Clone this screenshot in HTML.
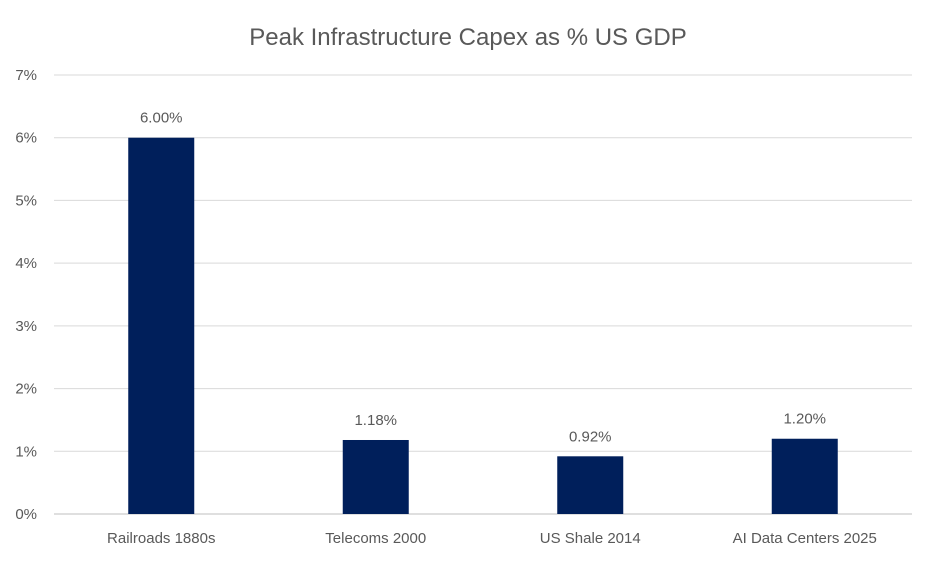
<!DOCTYPE html>
<html><head><meta charset="utf-8"><style>
body{margin:0;background:#fff;width:936px;height:562px;overflow:hidden}
svg text{font-family:"Liberation Sans",sans-serif;fill:#595959}
</style></head><body>
<svg id="c" width="936" height="562">
<text x="468" y="45" text-anchor="middle" font-size="24">Peak Infrastructure Capex as % US GDP</text>
</svg>
<script>
const categories=["Railroads 1880s","Telecoms 2000","US Shale 2014","AI Data Centers 2025"];
const values=[6.00,1.18,0.92,1.20];
const valueLabels=["6.00%","1.18%","0.92%","1.20%"];
const yTicks=[0,1,2,3,4,5,6,7];
const ns="http://www.w3.org/2000/svg",svg=document.getElementById('c');
const L=54,R=912,B=514,T=75,yMax=7;
const y=v=>B-(v/yMax)*(B-T);
const band=(R-L)/categories.length;
const x=i=>L+band*(i+0.5);
function mk(t,a){const e=document.createElementNS(ns,t);for(const k in a)e.setAttribute(k,a[k]);svg.appendChild(e);return e;}
yTicks.forEach(t=>{
 const g=mk('line',{x1:L,x2:R,y1:y(t),y2:y(t),stroke:t===0?'#bfbfbf':'#d9d9d9','stroke-width':1});
 
 
 const l=mk('text',{x:37,y:y(t)+5,'text-anchor':'end','font-size':15});
 l.textContent=t+'%';
 
 
});
categories.forEach((c,i)=>{
 const w=66;
 const b=mk('rect',{x:x(i)-w/2,y:y(values[i]),width:w,height:B-y(values[i]),fill:'#001f5b'});
 
 
 const v=mk('text',{x:x(i),y:y(values[i])-15,'text-anchor':'middle','font-size':15});
 v.textContent=valueLabels[i];
 
 
 const cl=mk('text',{x:x(i),y:543,'text-anchor':'middle','font-size':15});
 cl.textContent=c;
 
 
});
</script>
</body></html>
